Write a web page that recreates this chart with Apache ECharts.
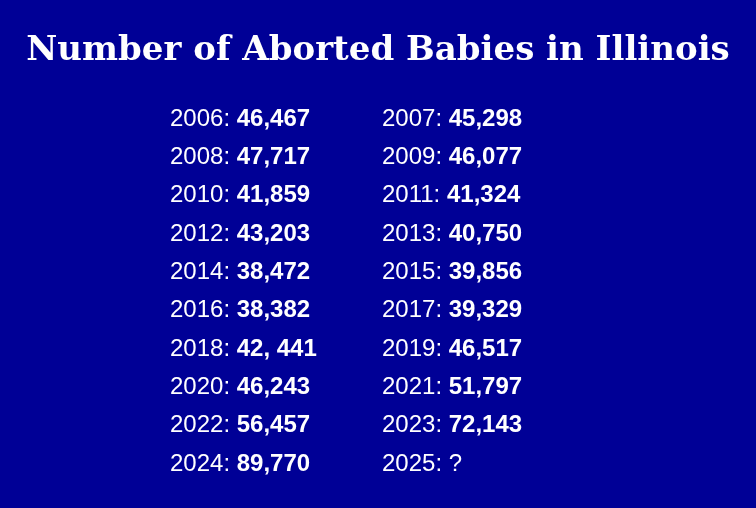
<!DOCTYPE html>
<html>
<head>
<meta charset="utf-8">
<script src="https://cdn.jsdelivr.net/npm/echarts@6/dist/echarts.min.js"></script>
<style>
html,body{margin:0;padding:0;background:#000096;}
#c{width:756px;height:508px;}
</style>
</head>
<body>
<div id="c"></div>
<script>
const titleText = 'Number of Aborted Babies in Illinois';
const years = ['2006','2007','2008','2009','2010','2011','2012','2013','2014','2015','2016','2017','2018','2019','2020','2021','2022','2023','2024','2025'];
const counts = ['46,467','45,298','47,717','46,077','41,859','41,324','43,203','40,750','38,472','39,856','38,382','39,329','42, 441','46,517','46,243','51,797','56,457','72,143','89,770','?'];

const points = years.map((y, i) => ({
  value: [i % 2, Math.floor(i / 2)],
  year: y,
  count: counts[i]
}));

const chart = echarts.init(document.getElementById('c'), null, {renderer: 'canvas'});
chart.setOption({
  backgroundColor: '#000096',
  animation: false,
  title: {
    text: titleText,
    left: 'center',
    top: 29,
    textStyle: {
      color: '#ffffff',
      fontFamily: 'DejaVu Serif',
      fontWeight: 'bold',
      fontSize: 34
    }
  },
  grid: {left: 170, width: 212, top: 119, height: 345},
  xAxis: {type: 'value', min: 0, max: 1, show: false},
  yAxis: {type: 'value', min: 0, max: 9, inverse: true, show: false},
  series: [{
    type: 'scatter',
    symbolSize: 0,
    itemStyle: {opacity: 1},
    data: points,
    label: {
      show: true,
      opacity: 1,
      position: 'right',
      distance: 0,
      align: 'left',
      verticalAlign: 'middle',
      formatter: p => '{y|' + p.data.year + ': }' + (p.data.count === '?' ? '{y|?}' : '{n|' + p.data.count + '}'),
      rich: {
        y: {color: '#ffffff', fontFamily: 'Liberation Sans', fontSize: 24},
        n: {color: '#ffffff', fontFamily: 'Liberation Sans', fontSize: 24, fontWeight: 'bold'}
      }
    }
  }]
});
</script>
</body>
</html>
